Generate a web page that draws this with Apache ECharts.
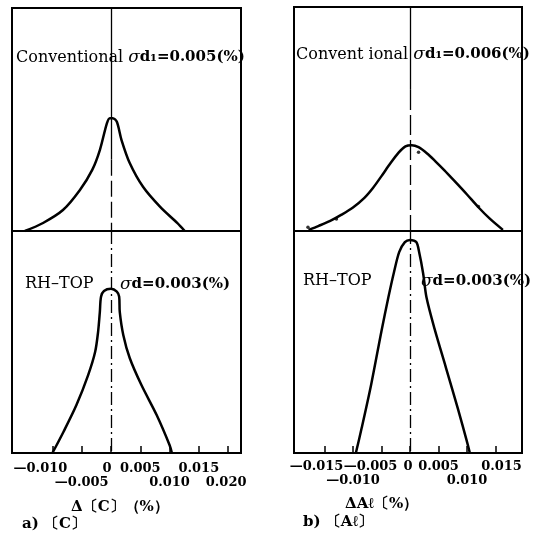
<!DOCTYPE html>
<html>
<head>
<meta charset="utf-8">
<script src="https://cdn.jsdelivr.net/npm/echarts@6/dist/echarts.min.js"></script>
<style>
html,body{margin:0;padding:0;background:#fff;}
#chart{width:533px;height:542px;}
</style>
</head>
<body>
<div id="chart"></div>
<script>
// ---------- data ----------
// a) [C] Conventional
const convCX = [-0.0147, -0.0116, -0.0082, -0.0053, -0.0032, -0.0019, -0.0007, -0.0002, 0.0003, 0.0010, 0.0018, 0.0032, 0.0055, 0.0084, 0.0113, 0.0126];
const convCY = [0, 3.6, 9.4, 18.4, 27.4, 36.3, 48.3, 50.6, 50.6, 49, 40.8, 30.5, 19.7, 10.8, 3.6, 0];
// a) [C] RH-TOP
const rhCX = [-0.0100, -0.0081, -0.0059, -0.0039, -0.0027, -0.0022, -0.0019, -0.0017, -0.0012, 0.0000, 0.0010, 0.0014, 0.0015, 0.0021, 0.0032, 0.0052, 0.0078, 0.0100, 0.0104];
const rhCY = [0, 9.6, 21.6, 35.1, 45.6, 54.6, 63.6, 70.4, 73, 74, 72.7, 70.4, 63.6, 53.2, 42.8, 30.6, 17.1, 3.6, 0];
// b) [Al] Conventional
const convAX = [-0.0178, -0.0160, -0.0140, -0.0120, -0.0100, -0.0080, -0.0065, -0.0050, -0.0035, -0.0020, -0.0008, 0.0003, 0.0015, 0.0030, 0.0045, 0.0060, 0.0080, 0.0100, 0.0120, 0.0140, 0.0163];
const convAY = [0.5, 2.3, 4.5, 7.3, 10.5, 14.8, 19.2, 24.5, 30.0, 35.0, 37.8, 38.3, 37.4, 34.6, 31.0, 27.2, 21.8, 16.3, 10.6, 5.5, 0.5];
// b) [Al] Conventional, plotted sample dots
const dotsAX = [-0.0179, -0.0129, 0.0015, 0.0120];
const dotsAY = [1.7, 5.4, 35.2, 10.9];
// b) [Al] RH-TOP
const rhAX = [-0.0095, -0.0085, -0.0068, -0.0050, -0.0038, -0.0028, -0.0019, -0.0009, 0, 0.0011, 0.0016, 0.0023, 0.0029, 0.0043, 0.0063, 0.0084, 0.0099, 0.0105];
const rhAY = [0, 11, 31, 55, 70, 81.5, 90.5, 95, 96, 95, 90.5, 81, 70, 56, 38.5, 20, 6, 0];

// tick values / labels
const ticksC = [-0.010, -0.005, 0, 0.005, 0.010, 0.015, 0.020];
const lowerRowC = [-0.005, 0.010, 0.020];
const ticksA = [-0.015, -0.010, -0.005, 0, 0.005, 0.010, 0.015];
const lowerRowA = [-0.010, 0.010];

// texts
const convTextC = ['Conventional ', 'σ', 'd₁=0.005(%)'];
const convTextA = ['Convent ional ', 'σ', 'd₁=0.006(%)'];
const rhName = 'RH–TOP';
const rhSigmaC = ['σ', 'd=0.003(%)'];
const rhSigmaA = ['σ', 'd=0.003(%)'];
const axisTitleC = 'Δ〔C〕（%）';
const axisTitleA = 'ΔAℓ〔%）';
const captionC = 'a) 〔C〕';
const captionA = 'b) 〔Aℓ〕';

// ---------- helpers ----------
const zip = (xs, ys) => xs.map((x, i) => [x, ys[i]]);
const has = (arr, v) => arr.some(a => Math.abs(a - v) < 1e-9);
const numText = v => Math.abs(v) < 1e-9 ? '0' : (v < 0 ? '—' : '') + Math.abs(v).toFixed(3);

// label horizontal nudges in px (styling only; negative = left)
const shiftC = {'-0.01': -12, '0': -4, '0.02': -2};
const shiftA = {'-0.015': -8, '-0.005': -11, '0': -2, '0.015': 6};
const key = v => String(Math.round(v * 1000) / 1000);

const labelFont = {fontFamily: 'DejaVu Serif', fontWeight: 'bold', fontSize: 13, color: '#000', lineHeight: 14};

const frame = {show: true, borderColor: '#000', borderWidth: 2, backgroundColor: 'transparent'};
const grids = [
  Object.assign({left: 12, top: 8, width: 229, height: 223}, frame),
  Object.assign({left: 12, top: 231, width: 229, height: 222}, frame),
  Object.assign({left: 294, top: 7, width: 228, height: 224}, frame),
  Object.assign({left: 294, top: 231, width: 228, height: 222}, frame)
];
const rangeC = {min: -0.0169, max: 0.0222};
const rangeA = {min: -0.02035, max: 0.01965};

const xAxes = [];
function hiddenX(gi, r) {
  xAxes.push(Object.assign({type: 'value', gridIndex: gi, position: 'bottom', offset: 0,
    axisLine: {show: false}, axisTick: {show: false},
    axisLabel: {show: false}, splitLine: {show: false}}, r));
  return xAxes.length - 1;
}
function tickX(gi, r, ticks) {
  xAxes.push(Object.assign({
    type: 'value', gridIndex: gi, position: 'bottom', offset: 0, axisLine: {show: false},
    axisTick: {show: true, inside: true, length: 7, customValues: ticks, lineStyle: {color: '#000', width: 1.5}},
    axisLabel: {show: false}, splitLine: {show: false}
  }, r));
  return xAxes.length - 1;
}
// one label axis per tick value so that no label hides another
function labelAxes(gi, r, ticks, lower, shifts, margin) {
  ticks.forEach(v => {
    const s = shifts[key(v)] || 0;
    const pad = s < 0 ? [0, -2 * s, 0, 0] : [0, 0, 0, 2 * s];
    xAxes.push(Object.assign({
      type: 'value', gridIndex: gi, position: 'bottom', offset: 0, axisLine: {show: false},
      axisTick: {show: false}, splitLine: {show: false},
      axisLabel: Object.assign({
        show: true, customValues: [v], margin: has(lower, v) ? margin + 14 : margin,
        showMinLabel: true, showMaxLabel: true, hideOverlap: false,
        formatter: () => '{t|' + numText(v) + '}',
        rich: {t: Object.assign({padding: pad}, labelFont)}
      }, labelFont)
    }, r));
  });
}

const yAx = gi => ({type: 'value', gridIndex: gi, min: 0, max: 100, show: false, splitLine: {show: false}});

function centerLine(segments) {
  return {
    silent: true, symbol: 'none', label: {show: false}, animation: false,
    lineStyle: {color: '#000', width: 1.3},
    data: segments.map(s => [{coord: [0, s[0]], lineStyle: {type: s[2], color: '#000', width: 1.3}}, {coord: [0, s[1]]}])
  };
}
const dashDot = [13, 4, 2, 4];
function curve(xi, yi, data, segs) {
  return {
    type: 'line', xAxisIndex: xi, yAxisIndex: yi, data: data, showSymbol: false,
    smooth: 0.3,
    lineStyle: {color: '#000', width: 2.5}, animation: false, z: 3,
    markLine: centerLine(segs)
  };
}

const xLT = hiddenX(0, rangeC);
const xLB = tickX(1, rangeC, ticksC);
labelAxes(1, rangeC, ticksC, lowerRowC, shiftC, 9);
const xRT = hiddenX(2, rangeA);
const xRB = tickX(3, rangeA, ticksA);
labelAxes(3, rangeA, ticksA, lowerRowA, shiftA, 7);

const serifFont = (size, weight, style) => (style || 'normal') + ' ' + (weight || 'normal') + ' ' + size + 'px "DejaVu Serif"';
function richTitle(x, y, parts) {
  return {
    type: 'text', left: x, top: y, z: 10,
    style: {
      text: parts.map(p => '{' + p[0] + '|' + p[1] + '}').join(''),
      rich: {
        r: {font: serifFont(16), fill: '#000'},
        i: {font: serifFont(17, 'normal', 'italic'), fill: '#000'},
        b: {font: serifFont(15, 'bold'), fill: '#000'}
      },
      fill: '#000'
    }
  };
}
function plainText(x, y, text, size) {
  return {
    type: 'text', left: x, top: y, z: 10,
    style: {text: text, font: serifFont(size, 'bold'), fill: '#000'}
  };
}

const option = {
  backgroundColor: '#fff',
  animation: false,
  grid: grids,
  xAxis: xAxes,
  yAxis: [yAx(0), yAx(1), yAx(2), yAx(3)],
  series: [
    curve(xLT, 0, zip(convCX, convCY), [[100, 32, 'solid'], [32, 0, [16, 5]]]),
    curve(xLB, 1, zip(rhCX, rhCY), [[100, 0, dashDot]]),
    curve(xRT, 2, zip(convAX, convAY), [[100, 63, 'solid'], [63, 0, [20, 5]]]),
    curve(xRB, 3, zip(rhAX, rhAY), [[100, 0, dashDot]]),
    {type: 'scatter', xAxisIndex: xRT, yAxisIndex: 2, data: zip(dotsAX, dotsAY),
      symbol: 'circle', symbolSize: 3.5, itemStyle: {color: '#000'}, silent: true, z: 4}
  ],
  graphic: [
    richTitle(16, 49, [['r', convTextC[0]], ['i', convTextC[1]], ['b', convTextC[2]]]),
    richTitle(296, 46, [['r', convTextA[0]], ['i', convTextA[1]], ['b', convTextA[2]]]),
    richTitle(25, 276, [['r', rhName]]),
    richTitle(120, 276, [['i', rhSigmaC[0]], ['b', rhSigmaC[1]]]),
    richTitle(303, 273, [['r', rhName]]),
    richTitle(421, 273, [['i', rhSigmaA[0]], ['b', rhSigmaA[1]]]),
    plainText(71, 500, axisTitleC, 15),
    plainText(345, 497, axisTitleA, 15),
    plainText(22, 517, captionC, 15),
    plainText(303, 515, captionA, 15)
  ]
};

const chart = echarts.init(document.getElementById('chart'), null, {renderer: 'canvas'});
chart.setOption(option);
</script>
</body>
</html>
